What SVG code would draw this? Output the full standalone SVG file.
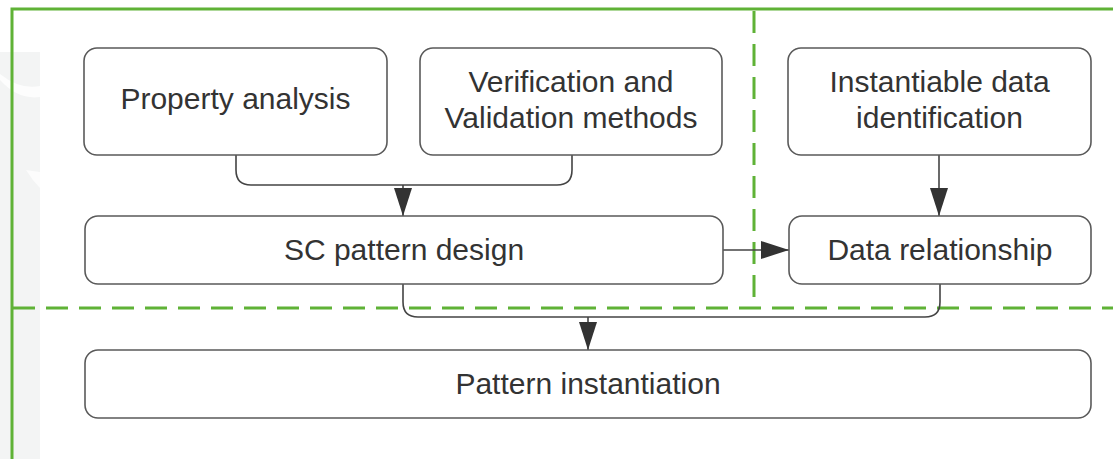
<svg xmlns="http://www.w3.org/2000/svg" width="1113" height="459" viewBox="0 0 1113 459">
  <style>
    .box { fill: #ffffff; stroke: #5a5a5a; stroke-width: 1.6; }
    .lbl { font-family: "Liberation Sans", Arial, sans-serif; font-size: 30px; fill: #333333; text-anchor: middle; }
    .conn { fill: none; stroke: #444444; stroke-width: 1.6; }
    .frame { fill: none; stroke: #5fb236; stroke-width: 3; }
    .dash { fill: none; stroke: #5fb236; stroke-width: 3; stroke-dasharray: 22 11; }
  </style>
  <defs>
    <marker id="arrow" viewBox="0 0 28 18" refX="28" refY="9" markerWidth="28" markerHeight="18" markerUnits="userSpaceOnUse" orient="auto">
      <path d="M0,0 L28,9 L0,18 Z" fill="#333333"/>
    </marker>
  </defs>
  <rect width="1113" height="459" fill="#ffffff"/>
  <g id="watermark">
    <path d="M0,52 L40,52 L40,459 L0,459 Z" fill="#f3f4f4"/>
    <path d="M0,80 Q18,100 40,97 L40,86 Q20,90 0,74 Z" fill="#ffffff" opacity="0.8"/>
    <path d="M26,170 Q32,180 40,188 L40,172 Z" fill="#ffffff" opacity="0.7"/>
  </g>
  <g id="frames">
    <path class="frame" d="M12,459 L12,9 L1113,9"/>
    <path class="dash" d="M754,11 L754,308"/>
    <path class="dash" d="M13,308 L1113,308"/>
  </g>
  <g id="connectors">
    <path class="conn" d="M236,155 L236,170 Q236,185 251,185 L557,185 Q572,185 572,170 L572,155"/>
    <path class="conn" d="M403,185 L403,216" marker-end="url(#arrow)"/>
    <path class="conn" d="M723,250 L789,250" marker-end="url(#arrow)"/>
    <path class="conn" d="M939,155 L939,216" marker-end="url(#arrow)"/>
    <path class="conn" d="M403,284 L403,302 Q403,317 418,317 L925,317 Q940,317 940,302 L940,284"/>
    <path class="conn" d="M588,317 L588,350" marker-end="url(#arrow)"/>
  </g>
  <g id="property-analysis">
    <rect class="box" x="84" y="48" width="303" height="107" rx="13"/>
    <text class="lbl" x="235.5" y="109">Property analysis</text>
  </g>
  <g id="verification-validation">
    <rect class="box" x="420" y="48" width="302" height="107" rx="13"/>
    <text class="lbl" x="571" y="92">Verification and</text>
    <text class="lbl" x="571" y="128">Validation methods</text>
  </g>
  <g id="instantiable-data">
    <rect class="box" x="788" y="48" width="303" height="107" rx="13"/>
    <text class="lbl" x="939.5" y="92">Instantiable data</text>
    <text class="lbl" x="939.5" y="128">identification</text>
  </g>
  <g id="sc-pattern-design">
    <rect class="box" x="85" y="216" width="638" height="68" rx="13"/>
    <text class="lbl" x="404" y="260">SC pattern design</text>
  </g>
  <g id="data-relationship">
    <rect class="box" x="789" y="216" width="302" height="68" rx="13"/>
    <text class="lbl" x="940" y="260">Data relationship</text>
  </g>
  <g id="pattern-instantiation">
    <rect class="box" x="85" y="350" width="1006" height="68" rx="13"/>
    <text class="lbl" x="588" y="394">Pattern instantiation</text>
  </g>
</svg>
